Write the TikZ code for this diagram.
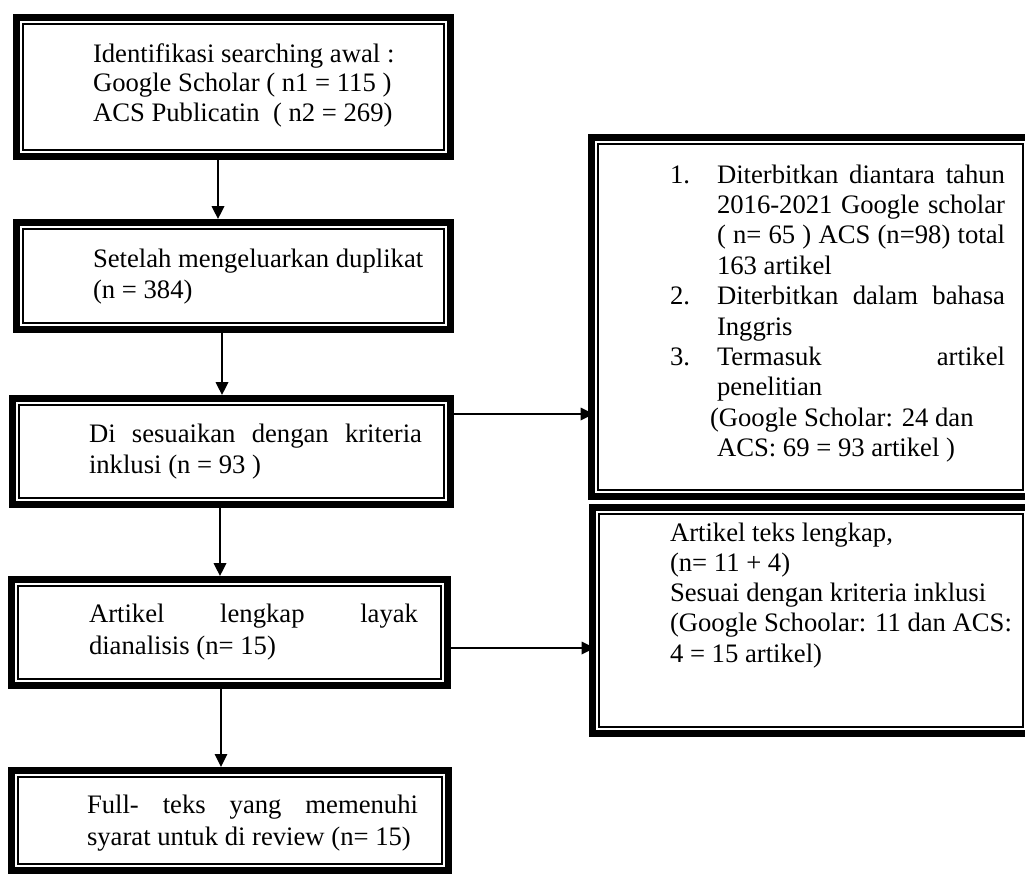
\documentclass[tikz,border=0pt]{standalone}
\usepackage{fontspec}
\setmainfont{Liberation Serif}
\usetikzlibrary{arrows.meta,calc}
\newdimen\pxu \pxu=0.45pt
\newdimen\bandw \bandw=3.15pt
\newdimen\thinw \thinw=0.7pt
\newcommand\jl[2]{\hbox to #1\pxu{#2}}
\tikzset{
  frame/.style 2 args={rectangle, inner sep=0pt, outer sep=0pt,
    minimum width=#1*\pxu, minimum height=#2*\pxu,
    path picture={
      \draw[line width=\bandw]
        ([shift={(3.5,3.5)}]path picture bounding box.north west) rectangle
        ([shift={(-3.5,-3.5)}]path picture bounding box.south east);
      \draw[line width=\thinw]
        ([shift={(10,10)}]path picture bounding box.north west) rectangle
        ([shift={(-10,-10)}]path picture bounding box.south east);
    }},
  t/.style={anchor=base west, inner sep=0pt, outer sep=0pt},
  arr/.style={line width=0.9pt, -{Triangle[width=5.6pt,length=5.8pt]}},
  arrthin/.style={line width=0.65pt, -{Triangle[width=5.6pt,length=5.8pt]}}
}
\begin{document}
\begin{tikzpicture}[x=0.45pt, y=-0.45pt, font=\fontsize{12}{14}\selectfont]
\useasboundingbox (0,0) rectangle (1025,875);
\clip (0,0) rectangle (1025,875);

% boxes
\node[frame={441}{146}] (b1) at (233.5,87) {};
\node[frame={441}{114}] (b2) at (233.5,276) {};
\node[frame={445}{113}] (b3) at (231.5,451.5) {};
\node[frame={443}{113}] (b4) at (229.5,632.5) {};
\node[frame={444}{107}] (b5) at (230,820.5) {};
\node[frame={445}{366}] (r1) at (810.5,317) {};
\node[frame={444}{233}] (r2) at (811,620.5) {};

% texts box 1
\node[t] (l11) at (93,62) {Identifikasi searching awal :};
\node[t] (l12) at (93,91.5) {Google Scholar ( n1 = 115 )};
\node[t] (l13) at (93,121) {ACS Publicatin~ ( n2 = 269)};
% box 2
\node[t] (l21) at (93,267) {Setelah mengeluarkan duplikat};
\node[t] (l22) at (93,298) {(n = 384)};
% box 3
\node[t] (l31) at (89,442) {\jl{333}{Di sesuaikan dengan kriteria}};
\node[t] (l32) at (89,473) {inklusi (n = 93 )};
% box 4
\node[t] (l41) at (89,622) {\jl{329}{Artikel lengkap layak}};
\node[t] (l42) at (89,654) {dianalisis (n= 15)};
% box 5
\node[t] (l51) at (87,813) {\jl{331}{Full- teks yang memenuhi}};
\node[t] (l52) at (87,845) {syarat untuk di review (n= 15)};

% right box 1
\node[t] (n1) at (670,183) {1.};
\node[t] (r11) at (717,183) {\jl{288}{Diterbitkan diantara tahun}};
\node[t] (r12) at (717,213.4) {\jl{288}{2016-2021 Google scholar}};
\node[t] (r13) at (717,243.8) {\jl{288}{( n= 65 ) ACS (n=98) total}};
\node[t] (r14) at (717,274.2) {163 artikel};
\node[t] (n2) at (670,304.6) {2.};
\node[t] (r15) at (717,304.6) {\jl{288}{Diterbitkan dalam bahasa}};
\node[t] (r16) at (717,335) {Inggris};
\node[t] (n3) at (670,365.4) {3.};
\node[t] (r17) at (717,365.4) {\jl{288}{Termasuk\hfill artikel}};
\node[t] (r18) at (717,395.8) {penelitian};
\node[t] (r19) at (710,426.2) {(Google Scholar: 24 dan};
\node[t] (r110) at (717,456.6) {ACS: 69 = 93 artikel )};

% right box 2
\node[t] (r21) at (670,541) {Artikel teks lengkap,};
\node[t] (r22) at (670,571) {(n= 11 + 4)};
\node[t] (r23) at (670,601) {Sesuai dengan kriteria inklusi};
\node[t] (r24) at (670,631.5) {(Google Schoolar: 11 dan ACS:};
\node[t] (r25) at (670,662) {4 = 15 artikel)};

% connectors
\path (b1.south) ++(-15.5,0) coordinate (s1);
\draw[arr] (s1) -- (s1 |- b2.north);
\path (b2.south) ++(-11.5,0) coordinate (s2);
\draw[arr] (s2) -- (s2 |- b3.north);
\path (b3.south) ++(-11.5,0) coordinate (s3);
\draw[arr] (s3) -- (s3 |- b4.north);
\path (b4.south) ++(-8.5,0) coordinate (s4);
\draw[arrthin] (s4) -- (s4 |- b5.north);
\path (b3.east) ++(0,-37.5) coordinate (s5);
\draw[arr, shorten >=-2.5pt] (s5) -- (s5 -| r1.west);
\path (b4.east) ++(0,15.5) coordinate (s6);
\draw[arr, shorten >=-2.5pt] (s6) -- (s6 -| r2.west);
\end{tikzpicture}
\end{document}
